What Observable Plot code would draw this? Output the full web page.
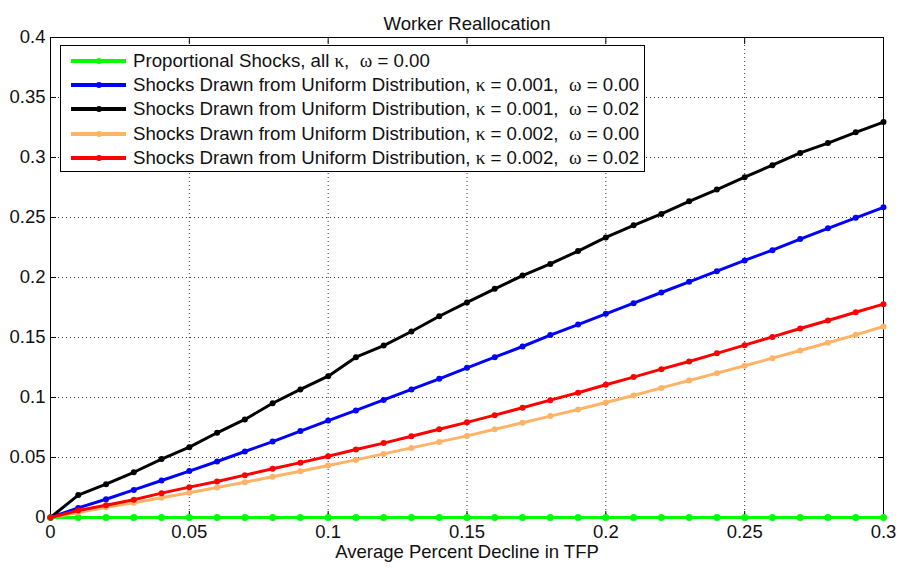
<!DOCTYPE html>
<html>
<head>
<meta charset="utf-8">
<script src="https://cdn.jsdelivr.net/npm/d3@7"></script>
<script src="https://cdn.jsdelivr.net/npm/@observablehq/plot@0.6"></script>
<style>
  html, body { margin: 0; padding: 0; background: #fff; }
  #wrap { position: relative; width: 901px; height: 568px; font-family: "Liberation Sans", Arial, sans-serif; }
  #legend { position: absolute; left: 60px; top: 45px; width: 585px; height: 127px; background: #fff; border: 1px solid #000; box-sizing: border-box; }
  .row { position: absolute; left: 0; height: 24px; display: flex; align-items: center; font-size: 18.7px; color: #111; white-space: pre; }
  .sw { position: relative; width: 55px; height: 24px; margin-left: 10px; margin-right: 7px; }
  .sw .ln { position: absolute; left: 0; right: 0; top: 10px; height: 4px; }
  .sw .dt { position: absolute; left: 24.5px; top: 9px; width: 6px; height: 6px; border-radius: 3px; }
  .gr { font-family: "Liberation Serif", "DejaVu Serif", serif; font-size: 19px; }
</style>
</head>
<body>
<div id="wrap"></div>
<script>
const xs = [0, 0.01, 0.02, 0.03, 0.04, 0.05, 0.06, 0.07, 0.08, 0.09, 0.10, 0.11, 0.12, 0.13, 0.14, 0.15, 0.16, 0.17, 0.18, 0.19, 0.20, 0.21, 0.22, 0.23, 0.24, 0.25, 0.26, 0.27, 0.28, 0.29, 0.30];
const greenVals = [0, 0, 0, 0, 0, 0, 0, 0, 0, 0, 0, 0, 0, 0, 0, 0, 0, 0, 0, 0, 0, 0, 0, 0, 0, 0, 0, 0, 0, 0, 0];
const blueVals = [0, 0.008, 0.0152, 0.023, 0.0308, 0.0387, 0.0467, 0.055, 0.0633, 0.072, 0.0808, 0.0892, 0.098, 0.1067, 0.1156, 0.1247, 0.1336, 0.1425, 0.152, 0.1608, 0.1697, 0.1786, 0.1875, 0.1964, 0.2053, 0.2142, 0.2228, 0.232, 0.241, 0.2497, 0.2585];
const blackVals = [0, 0.0187, 0.0278, 0.0377, 0.0487, 0.0586, 0.0706, 0.0817, 0.0952, 0.1067, 0.1178, 0.1336, 0.1433, 0.155, 0.1677, 0.1792, 0.1906, 0.2016, 0.2113, 0.222, 0.2334, 0.2435, 0.253, 0.2635, 0.2733, 0.2836, 0.2936, 0.3038, 0.312, 0.321, 0.3295];
const orangeVals = [0, 0.0042, 0.0086, 0.0122, 0.0164, 0.0206, 0.025, 0.0294, 0.034, 0.0386, 0.0433, 0.048, 0.053, 0.058, 0.063, 0.068, 0.0735, 0.079, 0.0845, 0.09, 0.0958, 0.1017, 0.108, 0.1142, 0.1203, 0.1264, 0.1328, 0.1392, 0.1456, 0.1522, 0.1592];
const redVals = [0, 0.0058, 0.0102, 0.0148, 0.0203, 0.0253, 0.03, 0.0353, 0.0406, 0.0457, 0.0511, 0.0566, 0.062, 0.0677, 0.0735, 0.0793, 0.0853, 0.0914, 0.0978, 0.104, 0.1106, 0.117, 0.1236, 0.13, 0.1368, 0.1436, 0.1505, 0.1575, 0.1642, 0.171, 0.1778];

const seriesNames = [
  ["Proportional Shocks, all ", "κ", ",  ", "ω", " = 0.00"],
  ["Shocks Drawn from Uniform Distribution, ", "κ", " = 0.001,  ", "ω", " = 0.00"],
  ["Shocks Drawn from Uniform Distribution, ", "κ", " = 0.001,  ", "ω", " = 0.02"],
  ["Shocks Drawn from Uniform Distribution, ", "κ", " = 0.002,  ", "ω", " = 0.00"],
  ["Shocks Drawn from Uniform Distribution, ", "κ", " = 0.002,  ", "ω", " = 0.02"]
];
const seriesColors = ["#00ff00", "#0000ff", "#000000", "#ffb366", "#ff0000"];
const seriesVals = [greenVals, blueVals, blackVals, orangeVals, redVals];
const xTicks = [0, 0.05, 0.1, 0.15, 0.2, 0.25, 0.3];
const yTicks = [0, 0.05, 0.1, 0.15, 0.2, 0.25, 0.3, 0.35, 0.4];
const title = "Worker Reallocation";
const xLabel = "Average Percent Decline in TFP";

const data = [];
seriesVals.forEach((vals, i) => vals.forEach((v, j) => data.push({s: i, x: xs[j], y: v})));

const fmt = d => d === 0 ? "0" : String(+d.toFixed(2));
const empty = () => "";

const marks = [
  Plot.gridX(xTicks, {stroke: "#000", strokeOpacity: 0.8, strokeDasharray: "1,3"}),
  Plot.gridY(yTicks, {stroke: "#000", strokeOpacity: 0.8, strokeDasharray: "1,3"}),
  Plot.frame({stroke: "#000", strokeWidth: 1}),
  Plot.text(xTicks, {x: d => d, frameAnchor: "bottom", dy: 20, text: fmt, fontSize: 18.5, fill: "#111"}),
  Plot.text(yTicks, {y: d => d, frameAnchor: "left", textAnchor: "end", dx: -5, text: fmt, fontSize: 18.5, fill: "#111"}),
  Plot.axisX(xTicks, {anchor: "bottom", tickSize: -6, tickFormat: empty, label: null}),
  Plot.axisX(xTicks, {anchor: "top", tickSize: -6, tickFormat: empty, label: null}),
  Plot.axisY(yTicks, {anchor: "left", tickSize: -6, tickFormat: empty, label: null}),
  Plot.axisY(yTicks, {anchor: "right", tickSize: -6, tickFormat: empty, label: null}),
];
seriesVals.forEach((vals, i) => {
  const d = data.filter(r => r.s === i);
  marks.push(Plot.line(d, {x: "x", y: "y", stroke: seriesColors[i], strokeWidth: 3}));
  marks.push(Plot.dot(d, {x: "x", y: "y", fill: seriesColors[i], r: i === 0 ? 3.5 : 3}));
});
marks.push(Plot.text([title], {frameAnchor: "top", dy: -21, fontSize: 18.6, fill: "#111", text: d => d}));
marks.push(Plot.text([xLabel], {frameAnchor: "bottom", dy: 40, fontSize: 18.5, fill: "#111", text: d => d}));

const chart = Plot.plot({
  width: 901,
  height: 568,
  marginLeft: 50,
  marginRight: 18,
  marginTop: 37,
  marginBottom: 51,
  style: {fontFamily: "'Liberation Sans', Arial, sans-serif", background: "#fff", overflow: "visible"},
  x: {domain: [0, 0.3], axis: null},
  y: {domain: [0, 0.4], axis: null},
  marks
});
const wrap = document.getElementById("wrap");
wrap.appendChild(chart);

const legend = document.createElement("div");
legend.id = "legend";
seriesNames.forEach((parts, i) => {
  const row = document.createElement("div");
  row.className = "row";
  row.style.top = (3 + i * 24.2) + "px";
  const sw = document.createElement("div");
  sw.className = "sw";
  sw.innerHTML = `<div class="ln" style="background:${seriesColors[i]}"></div><div class="dt" style="background:${seriesColors[i]}"></div>`;
  row.appendChild(sw);
  parts.forEach(p => {
    const span = document.createElement("span");
    span.textContent = p;
    if (p === "κ" || p === "ω") span.className = "gr";
    row.appendChild(span);
  });
  legend.appendChild(row);
});
wrap.appendChild(legend);
</script>
</body>
</html>
